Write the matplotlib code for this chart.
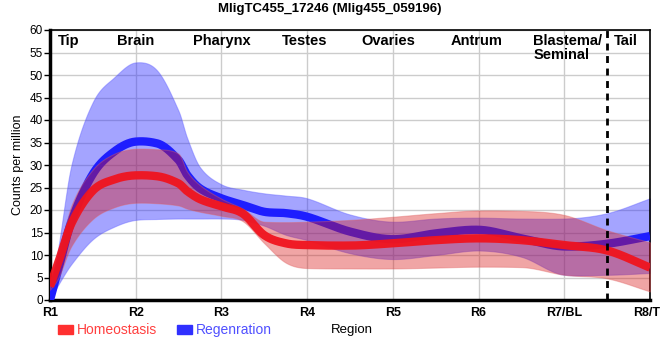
import numpy as np
import matplotlib
matplotlib.use("Agg")
import matplotlib.pyplot as plt
from matplotlib.patches import Patch

plt.rcParams['font.family'] = ['Liberation Sans', 'DejaVu Sans']

# positions along the body (1 = R1 ... 8 = R8/TL)
pos = [1, 1.1, 1.25, 1.5, 1.75, 2, 2.25, 2.5, 2.6, 2.75, 3, 3.25, 3.5, 3.75,
       4, 4.5, 5, 5.5, 6, 6.5, 7, 7.5, 8]

homeo_mean = [3, 8.5, 17, 24.3, 26.8, 27.7, 27.5, 25.9, 24.2, 22.4, 20.8, 19.2, 14.4,
              12.6, 12.2, 12.1, 12.6, 13.3, 13.7, 13.3, 12.2, 11.0, 7.2]
homeo_hi = [4.5, 10, 21, 29, 32.5, 33.6, 33.5, 32.5, 28.5, 25.5, 22.5, 20.3, 17.4,
            17.3, 17.4, 17.8, 18.5, 19.3, 19.9, 19.8, 18.9, 15.5, 12.8]
homeo_lo = [2.3, 5, 12, 18, 20.6, 21.6, 21.5, 21, 20.3, 19.6, 18.7, 17.5, 12.6,
            8.3, 7.1, 7.0, 7.0, 7.2, 7.4, 7.3, 5.6, 4.8, 1.9]

regen_mean = [0, 7, 17.5, 28, 33, 35.2, 34.8, 31.1, 27.8, 24.8, 22.6, 21.1, 19.6,
              19.3, 18.5, 15.2, 13.5, 14.8, 15.6, 13.7, 11.9, 12.5, 14.2]
regen_hi = [0.5, 12, 30, 44, 49.5, 52.8, 51, 42, 36, 29.5, 25.7, 24.5, 23.7,
            23.2, 22.6, 19, 17.4, 18.1, 18.3, 18.1, 18.1, 19.3, 22.6]
regen_lo = [0, 3.5, 8, 13.5, 16.3, 17.8, 18, 18.1, 18.1, 18.1, 18.1, 17.8, 16.5,
            14.5, 13.3, 10.4, 9.1, 10, 11, 9.6, 5.6, 5.6, 6]

tick_labels = ['R1', 'R2', 'R3', 'R4', 'R5', 'R6', 'R7/BL', 'R8/TL']
regions = ['Tip', 'Brain', 'Pharynx', 'Testes', 'Ovaries', 'Antrum', 'Blastema/\nSeminal', 'Tail']
region_x = [1.22, 2, 3, 3.97, 4.95, 5.98, 6.64, 7.72]


def smooth(xs, ys, n=700):
    # cardinal-style cubic hermite, only for drawing a smooth curve through the points
    xs = np.asarray(xs, float)
    ys = np.asarray(ys, float)
    h = np.diff(xs)
    d = np.diff(ys) / h
    m = np.zeros_like(ys)
    m[0], m[-1] = d[0], d[-1]
    for i in range(1, len(xs) - 1):
        m[i] = (ys[i + 1] - ys[i - 1]) / (xs[i + 1] - xs[i - 1])
        # keep the curve from overshooting too much
        lim = 3 * min(abs(d[i - 1]), abs(d[i]))
        if d[i - 1] * d[i] <= 0:
            m[i] *= 0.5
        elif abs(m[i]) > lim:
            m[i] = np.sign(m[i]) * lim
    xx = np.linspace(xs[0], xs[-1], n)
    k = np.clip(np.searchsorted(xs, xx) - 1, 0, len(xs) - 2)
    t = (xx - xs[k]) / h[k]
    h00 = 2 * t**3 - 3 * t**2 + 1
    h10 = t**3 - 2 * t**2 + t
    h01 = -2 * t**3 + 3 * t**2
    h11 = t**3 - t**2
    yy = h00 * ys[k] + h10 * h[k] * m[k] + h01 * ys[k + 1] + h11 * h[k] * m[k + 1]
    return xx, yy


fig = plt.figure(figsize=(6.6, 3.6), dpi=100)
ax = fig.add_axes([50 / 660, 60 / 360, 600 / 660, 270 / 360])

red = '#f0141e'
blue = '#1e1eff'

x, rh = smooth(pos, regen_hi)
_, rl = smooth(pos, regen_lo)
_, rm = smooth(pos, regen_mean)
_, hh = smooth(pos, homeo_hi)
_, hl = smooth(pos, homeo_lo)
_, hm = smooth(pos, homeo_mean)

ax.fill_between(x, rl, rh, color='#2828ff', alpha=0.42, lw=0.8, edgecolor='#6060ff', zorder=2)
ax.plot(x, rm, color=blue, lw=6, solid_capstyle='butt', zorder=3)
ax.fill_between(x, hl, hh, color='#d81414', alpha=0.38, lw=0.8, edgecolor='#e06060', zorder=4)
ax.plot(x, hm, color=red, lw=6, alpha=0.95, solid_capstyle='butt', zorder=5)

ax.axvline(7.5, color='black', lw=2, ls=(0, (2.5, 2)), zorder=6)

ax.set_xlim(1, 8)
ax.set_ylim(0, 60)
ax.set_xticks(range(1, 9))
ax.set_xticklabels(tick_labels, fontsize=9, fontweight='bold')
ax.set_yticks(range(0, 61, 5))
ax.tick_params(axis='y', labelsize=8.5, length=4, width=1, pad=1)
ax.tick_params(axis='x', length=0, pad=5)
ax.grid(True, color='#cccccc', lw=1)
ax.set_axisbelow(True)

for s in ['left', 'bottom']:
    ax.spines[s].set_linewidth(2.5)
for s in ['top', 'right']:
    ax.spines[s].set_linewidth(1.2)

for name, rx in zip(regions, region_x):
    ha = 'left' if '\n' in name else 'center'
    ax.text(rx, 59.2, name, ha=ha, va='top', fontsize=10.5, fontweight='bold',
            linespacing=1.0, zorder=7)

ax.set_ylabel('Counts per million', fontsize=9, labelpad=4)
fig.text(352 / 660, 1 - 330 / 360, 'Region', ha='center', va='center', fontsize=9.5)
fig.text(0.5, 1 - 9 / 360, 'MligTC455_17246 (Mlig455_059196)', ha='center', va='center',
         fontsize=9.5, fontweight='bold')

handles = [Patch(color='#ff3030', label='Homeostasis'), Patch(color='#3030ff', label='Regenration')]
fig.legend(handles=handles, loc='center left', bbox_to_anchor=(45 / 660, 1 - 330 / 360), ncol=2,
           frameon=False, fontsize=10, handlelength=1.1, handleheight=0.6, handletextpad=0.3,
           columnspacing=1.4, labelcolor=['#ff4040', '#5050ff'])

fig.savefig('out.png', dpi=100)
